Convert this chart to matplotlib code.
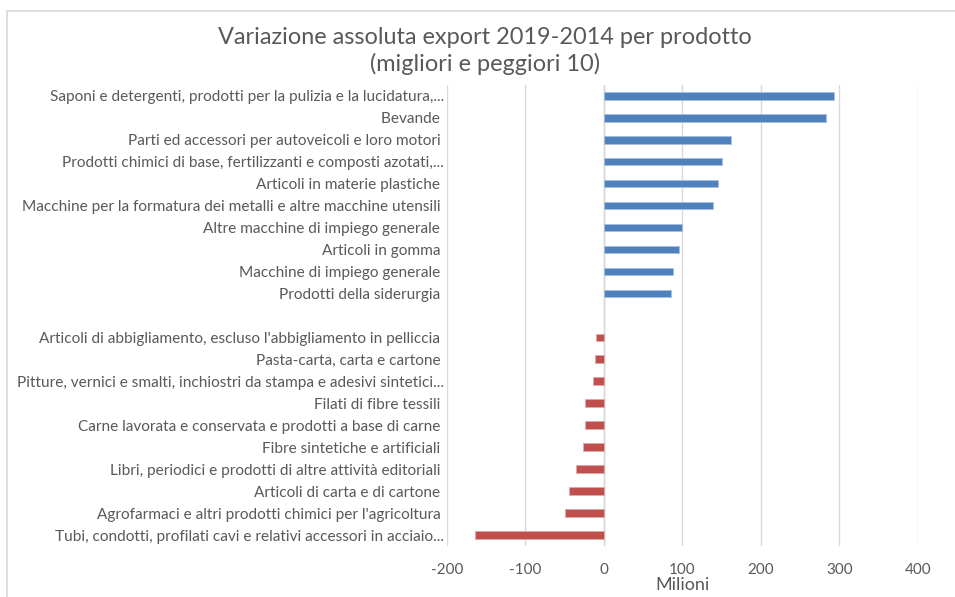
import matplotlib.pyplot as plt
from matplotlib.patches import Rectangle
import numpy as np

plt.rcParams['font.family'] = ['Lato', 'DejaVu Sans']

migliori = ['Saponi e detergenti, prodotti per la pulizia e la lucidatura,...',
            'Bevande ',
            'Parti ed accessori per autoveicoli e loro motori ',
            'Prodotti chimici di base, fertilizzanti e composti azotati,...',
            'Articoli in materie plastiche ',
            'Macchine per la formatura dei metalli e altre macchine utensili ',
            'Altre macchine di impiego generale ',
            'Articoli in gomma ',
            'Macchine di impiego generale ',
            'Prodotti della siderurgia ']
val_migliori = [293, 283, 162, 151, 146, 139, 99, 96, 88, 86]

peggiori = ["Articoli di abbigliamento, escluso l'abbigliamento in pelliccia ",
            'Pasta-carta, carta e cartone ',
            'Pitture, vernici e smalti, inchiostri da stampa e adesivi sintetici...',
            'Filati di fibre tessili ',
            'Carne lavorata e conservata e prodotti a base di carne ',
            'Fibre sintetiche e artificiali ',
            'Libri, periodici e prodotti di altre attività editoriali ',
            'Articoli di carta e di cartone ',
            "Agrofarmaci e altri prodotti chimici per l'agricoltura ",
            'Tubi, condotti, profilati cavi e relativi accessori in acciaio...']
val_peggiori = [-10, -11.5, -14.5, -24, -24, -27, -36, -44, -50, -164]

xticks = [-200, -100, 0, 100, 200, 300, 400]

testo = '#595959'
griglia = '#d9d9d9'

fig = plt.figure(figsize=(9.55, 5.97), dpi=100)
ax = fig.add_axes([0.468, 0.0854, 0.961 - 0.468, 0.858 - 0.0854])

y_top = np.arange(len(migliori))
y_bot = np.arange(len(peggiori)) + len(migliori) + 1
ax.barh(y_top, val_migliori, height=0.35, color='#4f81bd', edgecolor='#a7c0de', linewidth=0.6, zorder=3)
ax.barh(y_bot, val_peggiori, height=0.35, color='#c0504d', edgecolor='#e0a8a6', linewidth=0.6, zorder=3)

ax.set_yticks(np.concatenate([y_top, y_bot]))
ax.set_yticklabels(migliori + peggiori, fontsize=11.1, color=testo)
ax.set_ylim(len(migliori) + len(peggiori) + 0.5, -0.5)

ax.set_xlim(-200, 400)
ax.set_xticks(xticks)
ax.set_xticklabels([str(v) for v in xticks], fontsize=11, color=testo)
ax.set_xlabel('Milioni', fontsize=13, color=testo, labelpad=0)

ax.tick_params(axis='both', length=0)
ax.tick_params(axis='y', pad=2)
ax.tick_params(axis='x', pad=12)
for s in ax.spines.values():
    s.set_visible(False)
ax.grid(axis='x', color=griglia, linewidth=1, zorder=0)
ax.axvline(0, color='#d0d0d0', linewidth=1, zorder=1)

fig.text(485 / 955, 1 - 51 / 597,
         'Variazione assoluta export 2019-2014 per prodotto\n(migliori e peggiori 10)',
         ha='center', va='center', fontsize=16.9, color=testo, linespacing=1.3)

fig.patches.append(Rectangle((7 / 955, -0.1), 1.2, 1 - 11 / 597 + 0.1, transform=fig.transFigure,
                             fill=False, edgecolor='#d9d9d9', linewidth=1.2))

fig.savefig('out.png', dpi=100)
